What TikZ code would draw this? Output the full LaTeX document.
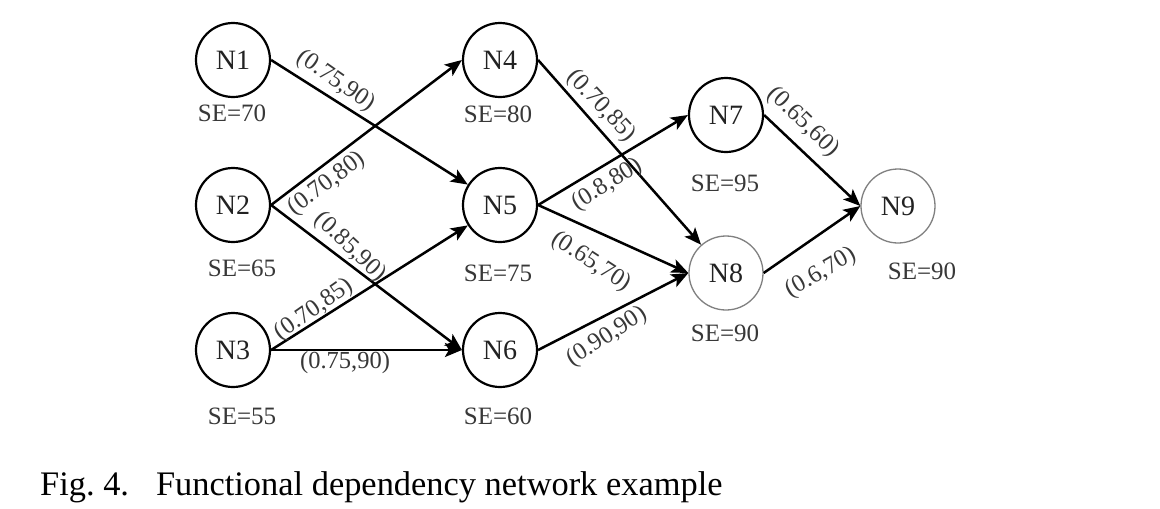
\documentclass[tikz,border=0pt]{standalone}
\usepackage{fontspec}
\setmainfont{Liberation Serif}
\usetikzlibrary{arrows.meta}
\definecolor{txt}{HTML}{222222}
\definecolor{lbl}{HTML}{383838}
\begin{document}
\begin{tikzpicture}[x=1pt,y=-1pt,
  nd/.style={circle,draw=black,line width=2.2pt,minimum size=74pt,inner sep=0pt,
    text=txt,font=\fontsize{28}{30}\selectfont},
  ndlight/.style={nd,draw=black!50,line width=1.3pt},
  se/.style={text=lbl,font=\fontsize{25}{27}\selectfont,inner sep=0pt},
  el/.style={text=lbl,font=\fontsize{24.5}{26}\selectfont,inner sep=0pt},
  arr/.style={line width=2.5pt,-{Stealth[length=17pt,width=14pt,inset=4pt]}}]
\useasboundingbox (0,0) rectangle (1160,509);
\fill[white] (0,0) rectangle (1160,509);
% nodes
\node[nd] (N1) at (233,60) {N1};
\node[nd] (N2) at (233,205) {N2};
\node[nd] (N3) at (233,350) {N3};
\node[nd] (N4) at (500,60) {N4};
\node[nd] (N5) at (500,205) {N5};
\node[nd] (N6) at (500,350) {N6};
\node[nd] (N7) at (726,115) {N7};
\node[ndlight] (N8) at (726,273) {N8};
\node[ndlight] (N9) at (898,206) {N9};
% SE labels
\node[se] (s1) at (232,113) {SE=70};
\node[se] (s2) at (242,268) {SE=65};
\node[se] (s3) at (242,416) {SE=55};
\node[se] (s4) at (498,114) {SE=80};
\node[se] (s5) at (498,273) {SE=75};
\node[se] (s6) at (498,416) {SE=60};
\node[se] (s7) at (725,183) {SE=95};
\node[se] (s8) at (725,333) {SE=90};
\node[se] (s9) at (922,271) {SE=90};
% edges
\draw[arr] (N1.east) -- (N5);
\draw[arr] (N2.east) -- (N4.west);
\draw[arr] (N2.east) -- (N6.west);
\draw[arr] (N3.east) -- (N5);
\draw[arr] (N3.east) -- (N6.west);
\draw[arr] (N4.east) -- (N8);
\draw[arr] (N5.east) -- (N7.west);
\draw[arr] (N5.east) -- (N8.west);
\draw[arr] (N6.east) -- (N8.west);
\draw[arr] (N7.east) -- (N9.west);
\draw[arr] (N8.east) -- (N9.west);
% edge labels
\node[el,rotate=-35] (l15) at (336,81) {(0.75,90)};
\node[el,rotate=37] (l24) at (327,184) {(0.70,80)};
\node[el,rotate=-43] (l26) at (350,247) {(0.85,90)};
\node[el,rotate=35] (l35) at (314,310) {(0.70,85)};
\node[el] (l36) at (345,363) {(0.75,90)};
\node[el,rotate=-47] (l48) at (601,106) {(0.70,85)};
\node[el,rotate=32] (l57) at (607,185) {(0.8,80)};
\node[el,rotate=-33] (l58) at (591,262) {(0.65,70)};
\node[el,rotate=33] (l68) at (607,337) {(0.90,90)};
\node[el,rotate=-44] (l79) at (803,122) {(0.65,60)};
\node[el,rotate=30] (l89) at (821,273) {(0.6,70)};
% caption
\node[anchor=base west,inner sep=0pt,text=black,font=\fontsize{34.4}{36}\selectfont] (cap) at (40,495)
  {Fig.~4.\hspace{27pt}Functional dependency network example};
\end{tikzpicture}
\end{document}
